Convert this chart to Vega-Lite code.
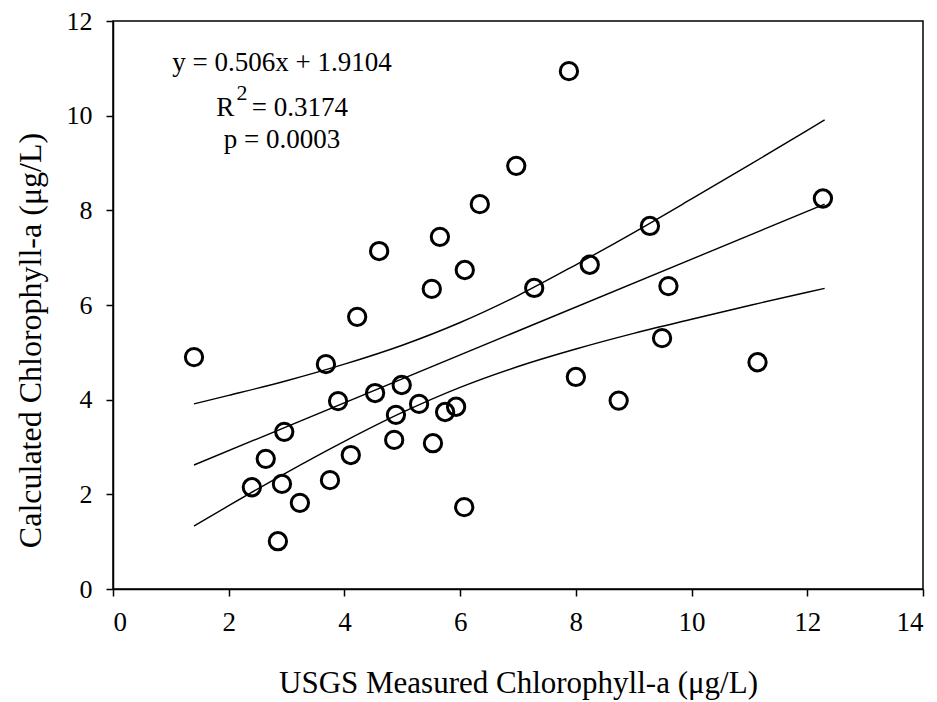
{
  "$schema": "https://vega.github.io/schema/vega-lite/v6.json",
  "width": 810,
  "height": 568,
  "padding": {"left": 113, "top": 21, "right": 14, "bottom": 113},
  "autosize": {"type": "none"},
  "background": "white",
  "config": {
    "font": "Liberation Serif",
    "view": {"stroke": "black", "strokeWidth": 1.5},
    "axis": {
      "grid": false,
      "domainColor": "black",
      "domainWidth": 1.5,
      "tickColor": "black",
      "tickWidth": 1.5,
      "tickSize": 7,
      "labelFont": "Liberation Serif",
      "labelColor": "black",
      "titleFont": "Liberation Serif",
      "titleFontWeight": "normal",
      "titleColor": "black"
    }
  },
  "datasets": {
    "points": [
      {"x": 1.40, "y": 4.90}, {"x": 2.40, "y": 2.15}, {"x": 2.64, "y": 2.75}, {"x": 2.92, "y": 2.22},
      {"x": 2.96, "y": 3.32}, {"x": 2.85, "y": 1.01}, {"x": 3.23, "y": 1.82}, {"x": 3.68, "y": 4.75},
      {"x": 3.75, "y": 2.30}, {"x": 3.89, "y": 3.97}, {"x": 4.11, "y": 2.83}, {"x": 4.22, "y": 5.75},
      {"x": 4.53, "y": 4.14}, {"x": 4.60, "y": 7.14}, {"x": 4.89, "y": 3.68}, {"x": 4.86, "y": 3.15},
      {"x": 4.99, "y": 4.31}, {"x": 5.29, "y": 3.91}, {"x": 5.51, "y": 6.34}, {"x": 5.53, "y": 3.08},
      {"x": 5.65, "y": 7.44}, {"x": 5.74, "y": 3.74}, {"x": 5.93, "y": 3.85}, {"x": 6.08, "y": 6.74},
      {"x": 6.07, "y": 1.73}, {"x": 6.34, "y": 8.13}, {"x": 6.97, "y": 8.94}, {"x": 7.28, "y": 6.36},
      {"x": 7.88, "y": 10.94}, {"x": 8.00, "y": 4.48}, {"x": 8.24, "y": 6.85}, {"x": 8.74, "y": 3.98},
      {"x": 9.28, "y": 7.67}, {"x": 9.49, "y": 5.30}, {"x": 9.60, "y": 6.40}, {"x": 11.14, "y": 4.79},
      {"x": 12.27, "y": 8.25}
    ],
    "lines": [
      {"series": "fit", "x": 1.4, "y": 2.62}, {"series": "fit", "x": 12.3, "y": 8.13},
      {"series": "upper", "x": 1.4, "y": 3.91}, {"series": "upper", "x": 2, "y": 4.09},
      {"series": "upper", "x": 3, "y": 4.40}, {"series": "upper", "x": 4, "y": 4.75},
      {"series": "upper", "x": 5, "y": 5.15}, {"series": "upper", "x": 6, "y": 5.63},
      {"series": "upper", "x": 7, "y": 6.20}, {"series": "upper", "x": 8, "y": 6.85},
      {"series": "upper", "x": 9, "y": 7.53}, {"series": "upper", "x": 10, "y": 8.24},
      {"series": "upper", "x": 11, "y": 8.96}, {"series": "upper", "x": 12, "y": 9.69},
      {"series": "upper", "x": 12.3, "y": 9.91},
      {"series": "lower", "x": 1.4, "y": 1.33}, {"series": "lower", "x": 2, "y": 1.76},
      {"series": "lower", "x": 3, "y": 2.46}, {"series": "lower", "x": 4, "y": 3.12},
      {"series": "lower", "x": 5, "y": 3.73}, {"series": "lower", "x": 6, "y": 4.26},
      {"series": "lower", "x": 7, "y": 4.70}, {"series": "lower", "x": 8, "y": 5.07},
      {"series": "lower", "x": 9, "y": 5.40}, {"series": "lower", "x": 10, "y": 5.70},
      {"series": "lower", "x": 11, "y": 5.99}, {"series": "lower", "x": 12, "y": 6.27},
      {"series": "lower", "x": 12.3, "y": 6.35}
    ],
    "notes": [
      {"label": "y = 0.506x + 1.9104", "x": 2.92, "y": 11.11},
      {"label": "R", "x": 1.94, "y": 10.16},
      {"label": "= 0.3174", "x": 3.23, "y": 10.16},
      {"label": "p = 0.0003", "x": 2.92, "y": 9.49}
    ],
    "sup": [
      {"label": "2", "x": 2.23, "y": 10.47}
    ]
  },
  "layer": [
    {
      "data": {"name": "lines"},
      "mark": {"type": "line", "color": "black", "strokeWidth": 1.4, "interpolate": "monotone"},
      "encoding": {
        "x": {"field": "x", "type": "quantitative",
              "scale": {"domain": [0, 14], "nice": false},
              "axis": {"values": [0, 2, 4, 6, 8, 10, 12, 14], "format": "d", "labelFontSize": 27, "labelPadding": 13,
                       "title": "USGS Measured Chlorophyll-a (μg/L)", "titleFontSize": 31, "titleBaseline": "middle", "titleY": 94, "titleX": 405}},
        "y": {"field": "y", "type": "quantitative",
              "scale": {"domain": [0, 12], "nice": false},
              "axis": {"values": [0, 2, 4, 6, 8, 10, 12], "format": "d", "labelFontSize": 26, "labelPadding": 14,
                       "title": "Calculated Chlorophyll-a (μg/L)", "titleFontSize": 32, "titleBaseline": "middle", "titleX": -83, "titleY": 319, "titleAngle": -90}},
        "detail": {"field": "series"}
      }
    },
    {
      "data": {"name": "points"},
      "mark": {"type": "point", "shape": "circle", "filled": false, "stroke": "black", "strokeWidth": 3, "size": 300, "opacity": 1},
      "encoding": {
        "x": {"field": "x", "type": "quantitative"},
        "y": {"field": "y", "type": "quantitative"}
      }
    },
    {
      "data": {"name": "notes"},
      "mark": {"type": "text", "font": "Liberation Serif", "fontSize": 27, "color": "black", "align": "center", "baseline": "middle"},
      "encoding": {
        "x": {"field": "x", "type": "quantitative"},
        "y": {"field": "y", "type": "quantitative"},
        "text": {"field": "label"}
      }
    },
    {
      "data": {"name": "sup"},
      "mark": {"type": "text", "font": "Liberation Serif", "fontSize": 22, "color": "black", "align": "center", "baseline": "middle"},
      "encoding": {
        "x": {"field": "x", "type": "quantitative"},
        "y": {"field": "y", "type": "quantitative"},
        "text": {"field": "label"}
      }
    }
  ]
}
